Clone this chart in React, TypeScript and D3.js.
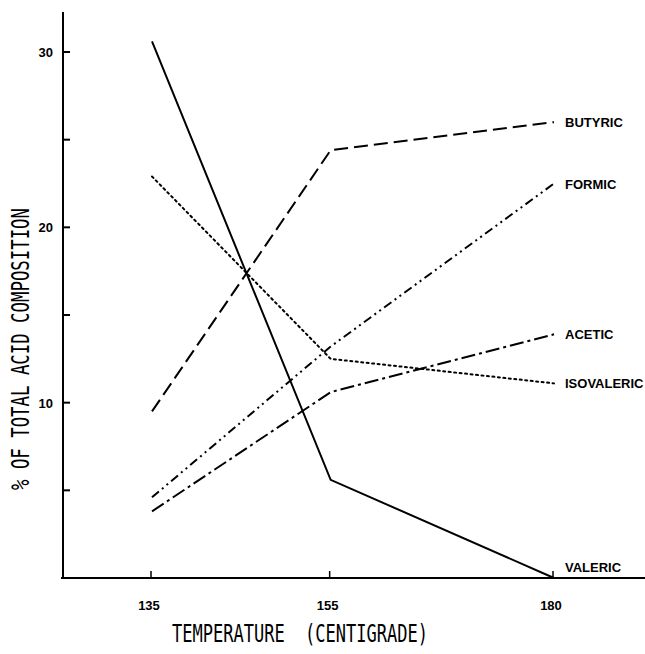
import React from "react";
import * as d3 from "d3";

// temperatures (centigrade) at which samples were taken
const temps = [135, 155, 180];

// % of total acid composition
const valeric = [30.6, 5.6, 0];
const butyric = [9.5, 24.4, 26.0];
const formic = [4.6, 13.2, 22.5];
const acetic = [3.8, 10.6, 13.9];
const isovaleric = [22.9, 12.5, 11.1];

const seriesNames = ["BUTYRIC", "FORMIC", "ACETIC", "ISOVALERIC", "VALERIC"];
const seriesValues = [butyric, formic, acetic, isovaleric, valeric];
const dashes = ["14,6", "9,4,2,4,2,4", "14,4,3,4", "2,3.5", ""];

const yTicks = [5, 10, 15, 20, 25, 30];
const yLabelled = [10, 20, 30];

const W = 645;
const H = 654;

const App = () => {
  const x = d3.scaleLinear().domain([135, 180]).range([152, 554]);
  const y = d3.scaleLinear().domain([0, 30]).range([578, 52]);
  const line = d3
    .line<number>()
    .x((d, i) => x(temps[i]))
    .y((d) => y(d));

  const sans = "'Liberation Sans', Arial, sans-serif";
  const lettering = "'DejaVu Sans Mono', 'Liberation Mono', monospace";

  return (
    <svg width={W} height={H} style={{ position: "absolute", left: 0, top: 0 }}>
      <rect width={W} height={H} fill="#fff" />
      {/* axes */}
      <line x1={63} y1={12} x2={63} y2={578} stroke="#000" strokeWidth={2} />
      <line x1={61} y1={578} x2={645} y2={578} stroke="#000" strokeWidth={2} />
      {yTicks.map((t) => (
        <line key={t} x1={63} x2={70} y1={y(t)} y2={y(t)} stroke="#000" strokeWidth={2} />
      ))}
      {yLabelled.map((t) => (
        <text
          key={t}
          x={53}
          y={y(t) + 5}
          textAnchor="end"
          fontFamily={sans}
          fontWeight="bold"
          fontSize={13}
        >
          {t}
        </text>
      ))}
      {temps.map((t) => (
        <g key={t}>
          <line x1={x(t) - 1} x2={x(t) - 1} y1={571} y2={578} stroke="#000" strokeWidth={1.5} />
          <text
            x={x(t) - 3}
            y={610}
            textAnchor="middle"
            fontFamily={sans}
            fontWeight="bold"
            fontSize={13}
          >
            {t}
          </text>
        </g>
      ))}
      {/* series */}
      {seriesValues.map((vals, i) => (
        <g key={seriesNames[i]}>
          <path
            d={line(vals) || ""}
            fill="none"
            stroke="#000"
            strokeWidth={2}
            strokeDasharray={dashes[i] || undefined}
            strokeLinecap={i === 3 ? "round" : "butt"}
          />
          <text
            x={x(180) + 11}
            y={y(vals[2]) + (i === 4 ? -6 : 5)}
            fontFamily={sans}
            fontWeight="bold"
            fontSize={13}
          >
            {seriesNames[i]}
          </text>
        </g>
      ))}
      {/* axis titles */}
      <text
        x={172}
        y={642}
        fontFamily={lettering}
        fontSize={24}
        textLength={256}
        lengthAdjust="spacingAndGlyphs"
        style={{ whiteSpace: "pre" }}
      >
        {"TEMPERATURE  (CENTIGRADE)"}
      </text>
      <text
        transform="translate(29,490) rotate(-90)"
        fontFamily={lettering}
        fontSize={24}
        textLength={282}
        lengthAdjust="spacingAndGlyphs"
        style={{ whiteSpace: "pre" }}
      >
        {"% OF TOTAL ACID COMPOSITION"}
      </text>
    </svg>
  );
};

export default App;
